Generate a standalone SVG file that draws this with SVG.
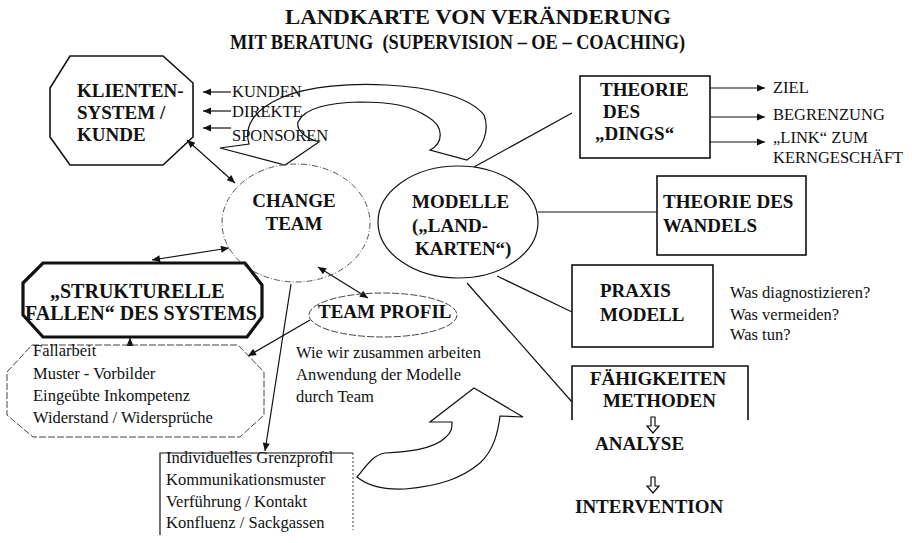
<svg xmlns="http://www.w3.org/2000/svg" width="912" height="543" viewBox="0 0 912 543" font-family="'Liberation Serif', 'DejaVu Serif', serif">
<style>
  text { font-family: "Liberation Serif", "DejaVu Serif", serif; fill: #111; }
  .b { font-weight: bold; font-size: 19px; }
  .r { font-size: 16.5px; }
  .ttl { font-weight: bold; font-size: 21px; }
  .ln { stroke: #111; stroke-width: 1.2; fill: none; }
  .box { stroke: #111; stroke-width: 1.6; fill: none; }
  .thin { stroke: #444; stroke-width: 1; fill: none; stroke-dasharray: 7 2; }
  .dd { stroke: #555; stroke-width: 1; fill: none; stroke-dasharray: 6 2 1 2; }
  .hollow { stroke: #111; stroke-width: 1.2; fill: #fff; }
  .ar { marker-end: url(#ah); }
  .dbl { marker-end: url(#ah); marker-start: url(#ah); }
</style>
<defs>
  <marker id="ah" viewBox="0 0 10 10" refX="10" refY="5" markerWidth="10" markerHeight="8" markerUnits="userSpaceOnUse" orient="auto-start-reverse">
    <path d="M0,0.5 L10,5 L0,9.5 z" fill="#111"/>
  </marker>
</defs>
<rect width="912" height="543" fill="#fff"/>

<g id="title">
  <text class="ttl" x="285" y="24" textLength="386" lengthAdjust="spacingAndGlyphs">LANDKARTE VON VERÄNDERUNG</text>
  <text class="ttl" x="230" y="49" textLength="455" lengthAdjust="spacingAndGlyphs" xml:space="preserve">MIT BERATUNG  (SUPERVISION – OE – COACHING)</text>
</g>

<g id="connectors">
  <line class="ln ar" x1="231" y1="92" x2="203" y2="92"/>
  <line class="ln ar" x1="231" y1="111" x2="203" y2="111"/>
  <line class="ln ar" x1="231" y1="128" x2="203" y2="128"/>
  <line class="ln dbl" x1="187" y1="140" x2="235" y2="183"/>
  <line class="ln dbl" x1="152" y1="260" x2="229" y2="248"/>
  <line class="ln dbl" x1="318" y1="267" x2="368" y2="298"/>
  <line class="ln ar" x1="310" y1="320" x2="248" y2="356"/>
  <line class="ln ar" x1="130" y1="346" x2="130" y2="338"/>
  <line class="ln ar" x1="291" y1="284" x2="265" y2="451"/>
  <line class="ln" x1="474" y1="167" x2="572" y2="113"/>
  <line class="ln" x1="538" y1="212" x2="657" y2="212"/>
  <line class="ln" x1="497" y1="276" x2="572" y2="312"/>
  <line class="ln" x1="467" y1="283" x2="572" y2="402"/>
  <line class="ln ar" x1="710" y1="88" x2="765" y2="88"/>
  <line class="ln ar" x1="710" y1="117" x2="765" y2="117"/>
  <line class="ln ar" x1="710" y1="142" x2="765" y2="142"/>
  <path class="hollow" d="M220,148 L249,144 C244,128 252,110 283,97 C310,86 350,83 387,85 C430,87 470,97 484,115 C490,130 483,150 467,160 L430,150 C443,143 445,127 428,117 C410,105 390,102 360,102 C330,103 305,107 298,122 C296,130 305,138 319,142 L285,165 Z"/>
  <path class="hollow" d="M357,477 C365,468 372,455 385,453 C405,452 432,450 445,438 C452,432 452,428 452,422 L430,422 L474,388 L523,417 L500,416 C498,432 494,450 480,463 C462,478 440,486 405,489 C385,490 368,486 357,477 Z"/>
  <path class="hollow" d="M651,417 h4 v9 h4 l-6,7 l-6,-7 h4 z"/>
  <path class="hollow" d="M651,477 h4 v9 h4 l-6,7 l-6,-7 h4 z"/>
</g>

<g id="klienten">
  <polygon class="box" points="70,56 163,56 193,83 193,137 163,165 70,165 50,137 50,88"/>
  <text class="b" x="77" y="97">KLIENTEN-</text>
  <text class="b" x="77" y="119">SYSTEM /</text>
  <text class="b" x="77" y="141">KUNDE</text>
</g>

<g id="inputs">
  <text class="r" x="232" y="97">KUNDEN</text>
  <text class="r" x="232" y="117">DIREKTE</text>
  <text class="r" x="232" y="141">SPONSOREN</text>
</g>

<g id="change-team">
  <ellipse class="dd" cx="296" cy="223" rx="74" ry="59"/>
  <text class="b" x="294" y="207" text-anchor="middle">CHANGE</text>
  <text class="b" x="294" y="230" text-anchor="middle">TEAM</text>
</g>

<g id="modelle">
  <ellipse class="ln" cx="458" cy="222" rx="80" ry="56"/>
  <text class="b" x="412" y="208">MODELLE</text>
  <text class="b" x="412" y="232">(„LAND-</text>
  <text class="b" x="415" y="255">KARTEN“)</text>
</g>

<g id="theorie-dings">
  <rect class="box" x="580" y="76" width="130" height="82"/>
  <text class="b" x="600" y="96">THEORIE</text>
  <text class="b" x="603" y="118">DES</text>
  <text class="b" x="595" y="140">„DINGS“</text>
  <text class="r" x="773" y="93">ZIEL</text>
  <text class="r" x="773" y="120">BEGRENZUNG</text>
  <text class="r" x="773" y="143">„LINK“ ZUM</text>
  <text class="r" x="773" y="163">KERNGESCHÄFT</text>
</g>

<g id="theorie-wandel">
  <rect class="box" x="657" y="176" width="149" height="79"/>
  <text class="b" x="663" y="208">THEORIE DES</text>
  <text class="b" x="663" y="232">WANDELS</text>
</g>

<g id="praxis">
  <rect class="box" x="572" y="265" width="141" height="82"/>
  <text class="b" x="600" y="297">PRAXIS</text>
  <text class="b" x="600" y="321">MODELL</text>
  <text class="r" x="730" y="298">Was diagnostizieren?</text>
  <text class="r" x="730" y="320">Was vermeiden?</text>
  <text class="r" x="730" y="340">Was tun?</text>
</g>

<g id="faehigkeiten">
  <path class="box" d="M572,420 V366 H748 V420"/>
  <text class="b" x="590" y="385">FÄHIGKEITEN</text>
  <text class="b" x="603" y="407">METHODEN</text>
  <text class="b" x="595" y="450">ANALYSE</text>
  <text class="b" x="575" y="513">INTERVENTION</text>
</g>

<g id="strukturelle">
  <polygon points="43,263 245,263 262,285 262,317 247,337 43,337 23,315 23,283" fill="none" stroke="#111" stroke-width="3.2"/>
  <text class="b" x="50" y="298" style="font-size:20px">„STRUKTURELLE</text>
  <text class="b" x="25" y="320" style="font-size:20px">FALLEN“ DES SYSTEMS</text>
</g>

<g id="team-profil">
  <ellipse class="thin" cx="383" cy="315" rx="74" ry="22"/>
  <text class="b" x="318" y="318">TEAM PROFIL</text>
  <text class="r" x="296" y="358">Wie wir zusammen arbeiten</text>
  <text class="r" x="296" y="380">Anwendung der Modelle</text>
  <text class="r" x="296" y="402">durch Team</text>
</g>

<g id="fallarbeit">
  <polygon class="thin" points="32,345 238,345 264,372 264,415 240,437 33,437 7,415 7,372"/>
  <text class="r" x="33" y="356">Fallarbeit</text>
  <text class="r" x="33" y="379">Muster - Vorbilder</text>
  <text class="r" x="33" y="401">Eingeübte Inkompetenz</text>
  <text class="r" x="33" y="423">Widerstand / Widersprüche</text>
</g>

<g id="individuelles">
  <path class="ln" d="M160,535 V453 H353"/>
  <path d="M353,453 V530" stroke="#444" stroke-width="1" stroke-dasharray="2 2" fill="none"/>
  <text class="r" x="166" y="463">Individuelles Grenzprofil</text>
  <text class="r" x="166" y="485">Kommunikationsmuster</text>
  <text class="r" x="166" y="507">Verführung / Kontakt</text>
  <text class="r" x="166" y="528">Konfluenz / Sackgassen</text>
</g>
</svg>
